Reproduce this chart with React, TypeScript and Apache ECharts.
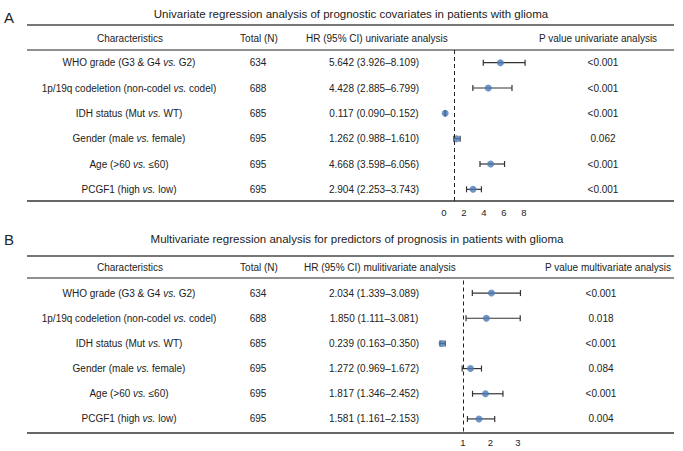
import React, { useEffect, useRef } from "react";
import * as echarts from "echarts";

const characteristics = [
  "WHO grade (G3 & G4 vs. G2)",
  "1p/19q codeletion (non-codel vs. codel)",
  "IDH status (Mut vs. WT)",
  "Gender (male vs. female)",
  "Age (>60 vs. ≤60)",
  "PCGF1 (high vs. low)",
];
const totals = [634, 688, 685, 695, 695, 695];

const uniHR = [5.642, 4.428, 0.117, 1.262, 4.668, 2.904];
const uniLow = [3.926, 2.885, 0.09, 0.988, 3.598, 2.253];
const uniHigh = [8.109, 6.799, 0.152, 1.61, 6.056, 3.743];
const uniP = ["<0.001", "<0.001", "<0.001", "0.062", "<0.001", "<0.001"];

const multiHR = [2.034, 1.85, 0.239, 1.272, 1.817, 1.581];
const multiLow = [1.339, 1.111, 0.163, 0.969, 1.346, 1.161];
const multiHigh = [3.089, 3.081, 0.35, 1.672, 2.452, 2.153];
const multiP = ["<0.001", "0.018", "<0.001", "0.084", "<0.001", "0.004"];

const titleA = "Univariate regression analysis of prognostic covariates in patients with glioma";
const titleB = "Multivariate regression analysis for predictors of prognosis in patients with glioma";
const headersA = ["Characteristics", "Total (N)", "HR (95% CI) univariate analysis", "P value univariate analysis"];
const headersB = ["Characteristics", "Total (N)", "HR (95% CI) mulitivariate analysis", "P value multivariate analysis"];

const FONT = "Liberation Sans, Arial, Helvetica, sans-serif";
const TXT = "#222";
const DOT = "#4a7bb7";

const fmtHR = (h: number[], l: number[], u: number[]) =>
  h.map((v, i) => `${v.toFixed(3)} (${l[i].toFixed(3)}–${u[i].toFixed(3)})`);

const richChar = (s: string) => {
  const parts = s.split("vs.");
  if (parts.length < 2) return `{n|${s}}`;
  return `{n|${parts[0]}}{i|vs.}{n|${parts[1]}}`;
};

const richStyles = {
  n: { fontFamily: FONT, fontSize: 10, color: TXT },
  i: { fontFamily: FONT, fontSize: 10, color: TXT, fontStyle: "italic" },
};

type Panel = {
  gridLeft: number;
  gridWidth: number;
  top: number;
  height: number;
  min: number;
  max: number;
  interval: number;
  shown: number[];
  hr: number[];
  low: number[];
  high: number[];
  p: string[];
  pCenter: number;
  labelMargin: number;
};

export default function App() {
  const ref = useRef<HTMLDivElement>(null);

  useEffect(() => {
    if (!ref.current) return;
    const chart = echarts.init(ref.current, undefined, { renderer: "svg" });

    const panels: Panel[] = [
      {
        gridLeft: 424, gridWidth: 120, top: 50, height: 152,
        min: -2, max: 10, interval: 2, shown: [0, 2, 4, 6, 8],
        hr: uniHR, low: uniLow, high: uniHigh, p: uniP, pCenter: 603, labelMargin: 5,
      },
      {
        gridLeft: 435.5, gridWidth: 110, top: 280.5, height: 151,
        min: 0, max: 4, interval: 1, shown: [1, 2, 3],
        hr: multiHR, low: multiLow, high: multiHigh, p: multiP, pCenter: 601, labelMargin: 6,
      },
    ];

    const grid: any[] = [];
    const xAxis: any[] = [];
    const yAxis: any[] = [];
    const series: any[] = [];

    const catAxisBase = (gi: number, data: string[], position: string, margin: number, rich = false) => ({
      type: "category",
      gridIndex: gi,
      inverse: true,
      position,
      data,
      axisLine: { show: false },
      axisTick: { show: false },
      splitLine: { show: false },
      axisLabel: {
        margin,
        align: "center",
        fontFamily: FONT,
        fontSize: 10,
        color: TXT,
        ...(rich ? { formatter: (v: string) => richChar(v), rich: richStyles } : {}),
      },
    });

    panels.forEach((pn, gi) => {
      grid.push({ left: pn.gridLeft, top: pn.top, width: pn.gridWidth, height: pn.height });
      xAxis.push({
        type: "value",
        gridIndex: gi,
        min: pn.min,
        max: pn.max,
        interval: pn.interval,
        axisLine: { show: false },
        axisTick: { show: false },
        splitLine: { show: false },
        axisLabel: {
          margin: pn.labelMargin,
          fontFamily: FONT,
          fontSize: 9.5,
          color: TXT,
          formatter: (v: number) => (pn.shown.indexOf(v) >= 0 ? String(v) : ""),
        },
      });
      const base = yAxis.length;
      const gridRight = pn.gridLeft + pn.gridWidth;
      yAxis.push(catAxisBase(gi, characteristics, "left", pn.gridLeft - 129, true));
      yAxis.push(catAxisBase(gi, totals.map(String), "left", pn.gridLeft - 258));
      yAxis.push(catAxisBase(gi, fmtHR(pn.hr, pn.low, pn.high), "left", pn.gridLeft - 374));
      yAxis.push(catAxisBase(gi, pn.p, "right", pn.pCenter - gridRight));

      series.push({
        type: "custom",
        xAxisIndex: gi,
        yAxisIndex: base,
        encode: { x: [0, 1], y: 2 },
        data: pn.low.map((l, i) => [l, pn.high[i], i]),
        renderItem: (params: any, api: any) => {
          const a = api.coord([api.value(0), api.value(2)]);
          const b = api.coord([api.value(1), api.value(2)]);
          const st = { stroke: "#333", lineWidth: 1.2 };
          return {
            type: "group",
            children: [
              { type: "line", shape: { x1: a[0], y1: a[1], x2: b[0], y2: b[1] }, style: st },
              { type: "line", shape: { x1: a[0], y1: a[1] - 3, x2: a[0], y2: a[1] + 3 }, style: st },
              { type: "line", shape: { x1: b[0], y1: b[1] - 3, x2: b[0], y2: b[1] + 3 }, style: st },
            ],
          };
        },
        z: 2,
        silent: true,
      });
      series.push({
        type: "scatter",
        xAxisIndex: gi,
        yAxisIndex: base,
        symbol: "circle",
        symbolSize: 7,
        itemStyle: { color: DOT },
        data: pn.hr.map((h, i) => [h, i]),
        z: 3,
        silent: true,
        markLine: {
          silent: true,
          symbol: "none",
          label: { show: false },
          lineStyle: { color: "#222", type: [4, 3], width: 1 },
          data: [{ xAxis: 1 }],
        },
      });
    });

    const hline = (y: number, w: number, color: string) => ({
      type: "line",
      shape: { x1: 27, y1: y, x2: 674, y2: y },
      style: { stroke: color, lineWidth: w },
      silent: true,
    });
    const txt = (x: number, y: number, s: string, size = 10, align = "center") => ({
      type: "text",
      x,
      y,
      style: { text: s, fill: TXT, font: `${size}px ${FONT}`, align, verticalAlign: "middle" },
      silent: true,
    });

    const graphic: any[] = [
      txt(4, 17, "A", 15, "left"),
      txt(351, 14, titleA, 11.5),
      hline(25, 2, "#777"),
      txt(130, 38, headersA[0]),
      txt(259, 38, headersA[1]),
      txt(306, 38, headersA[2], 10, "left"),
      txt(598, 38, headersA[3]),
      hline(50, 1.2, "#222"),
      hline(201, 2, "#666"),

      txt(4, 239, "B", 15, "left"),
      txt(357, 239, titleB, 11.5),
      hline(256, 2, "#777"),
      txt(130, 267, headersB[0]),
      txt(259, 267, headersB[1]),
      txt(304, 267, headersB[2], 10, "left"),
      txt(608, 267, headersB[3]),
      hline(278, 1.2, "#222"),
      hline(433, 2, "#666"),
    ];

    chart.setOption({
      animation: false,
      backgroundColor: "#fff",
      grid,
      xAxis,
      yAxis,
      series,
      graphic,
    });

    return () => chart.dispose();
  }, []);

  return (
    <div
      ref={ref}
      style={{ position: "absolute", left: 0, top: 0, width: 683, height: 451, background: "#fff" }}
    />
  );
}
